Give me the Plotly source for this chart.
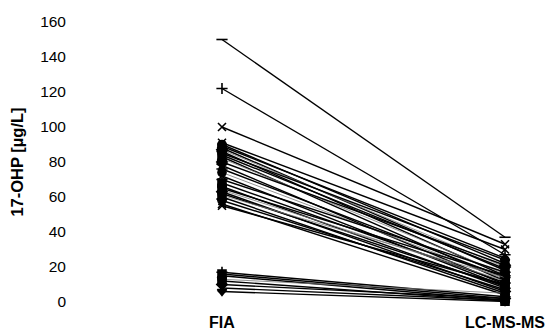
import plotly.graph_objects as go

methods = ["FIA", "LC-MS-MS"]
fia = [150, 122, 100,
       91, 90, 89, 88, 87, 86, 85, 84, 83, 82, 80, 78, 76, 74, 72,
       70, 68, 66, 65, 64, 63, 62, 61, 60, 58, 56, 55,
       17, 16, 15, 13, 12, 10, 8, 6]
lcms = [37, 27, 33,
        30, 22, 25, 18, 20, 15, 24, 19, 12, 16, 21, 10, 14, 13, 9,
        17, 11, 8, 15, 12, 6, 9, 14, 5, 7, 4, 10,
        3, 2, 1, 5, 0.5, 2, 1, 0.3]
symbols = ["line-ew-open", "cross-thin-open", "x-thin-open", "x-thin-open", "circle",
           "triangle-up", "square", "diamond", "cross-thin-open", "circle",
           "x-thin-open", "square", "triangle-up", "diamond", "star",
           "cross-thin-open", "circle", "x-thin-open", "cross-thin-open", "square",
           "circle", "square", "triangle-up", "diamond", "circle",
           "x-thin-open", "square", "star", "x-thin-open", "x-thin-open",
           "cross-thin-open", "square", "triangle-up", "circle", "square",
           "diamond", "x-thin-open", "triangle-down"]
greys = [7, 12, 16, 22, 25, 33]

fig = go.Figure()
for i, (a, b) in enumerate(zip(fia, lcms)):
    col = "#777777" if i in greys else "black"
    fig.add_trace(go.Scatter(
        x=[0, 1], y=[a, b], mode="lines+markers",
        line=dict(color=col, width=1.4 if col == "black" else 0.8),
        marker=dict(symbol=symbols[i % len(symbols)], size=8, color="black",
                    line=dict(color="black", width=1.6)),
        cliponaxis=False, showlegend=False, hoverinfo="skip"))

fig.update_layout(
    width=552, height=336,
    margin=dict(l=85, r=0, t=22, b=34),
    paper_bgcolor="white", plot_bgcolor="white",
    font=dict(family="Liberation Sans, Arial, sans-serif", color="black", size=15),
    xaxis=dict(range=[-0.484, 1.166], tickvals=[0, 1], ticktext=["<b>FIA</b>", "<b>LC-MS-MS</b>"],
               showgrid=False, zeroline=False, showline=False, ticks="",
               ticklabelstandoff=9, tickfont=dict(size=16)),
    yaxis=dict(range=[0, 160], tickvals=[0, 20, 40, 60, 80, 100, 120, 140, 160],
               showgrid=False, zeroline=False, showline=False, ticks="",
               ticklabelstandoff=18, tickfont=dict(size=15.5),
               title=dict(text="<b>17-OHP [µg/L]</b>", font=dict(size=16.5), standoff=12)),
)
fig.write_html("out.html", config={"displayModeBar": False},
               post_script="document.body.style.margin='0';document.body.style.padding='0';")
